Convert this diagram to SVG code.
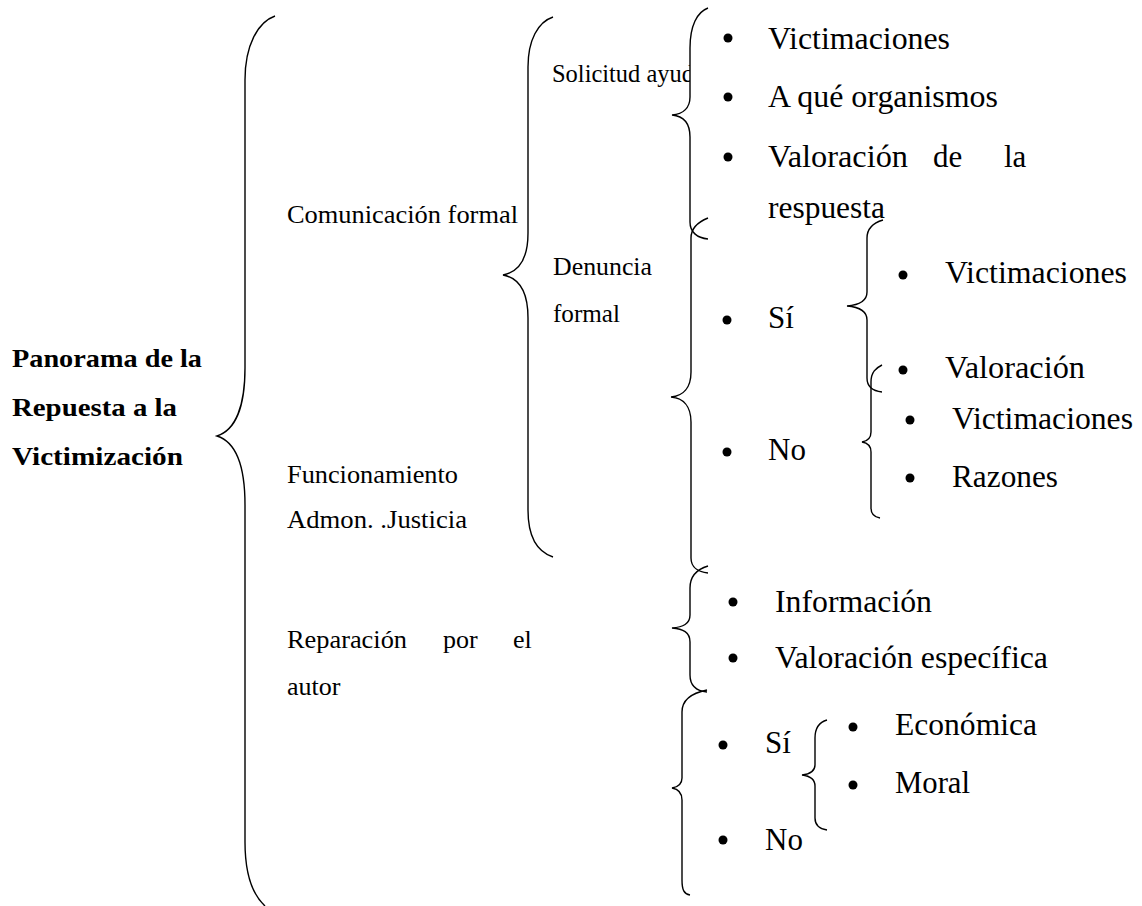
<svg xmlns="http://www.w3.org/2000/svg" width="1142" height="906" viewBox="0 0 1142 906">
<style>
.br{fill:none;stroke:#000;stroke-width:1.4}
.lbl{font-family:"Liberation Serif","Times New Roman","DejaVu Serif",serif;font-size:26px;fill:#000}
.itm{font-family:"Liberation Serif","Times New Roman","DejaVu Serif",serif;font-size:31px;fill:#000}
.ttl{font-family:"Liberation Serif","Times New Roman","DejaVu Serif",serif;font-size:26px;font-weight:bold;fill:#000}
.dot{fill:#000}
</style>
<defs>
<clipPath id="clipSol"><rect x="540" y="50" width="150" height="50"/></clipPath>
</defs>
<rect width="1142" height="906" fill="#fff"/>

<g id="connectors">
<path class="br" d="M275,16 C258,22 245,45 245,80 L245,368 C245,405 236,430 217,436 C236,442 245,467 245,505 L245,842 C245,875 253,895 265,906"/>
<path class="br" d="M553,17 C538,22 528,40 528,67 L528,233 C528,258 519,272 503,275 C519,278 528,292 528,318 L528,510 C528,538 538,552 553,557"/>
<path class="br" d="M708,8 C697,12 690,26 690,48 L690,97 C690,108 683,114 672,115 C683,116 690,123 690,137 L690,222 C690,232 697,238 708,239"/>
<path class="br" d="M708,218 C698,222 691,228 691,238 L691,372 C691,388 683,396 671,397 C683,398 691,406 691,422 L691,558 C691,567 698,572 708,573"/>
<path class="br" d="M708,566 C698,569 690,576 690,588 L690,615 C690,624 683,627 672,628 C683,629 690,632 690,642 L690,675 C690,686 697,691 707,692"/>
<path class="br" d="M707,690 C692,693 682,700 682,712 L682,778 C682,784 678,787 672,788 C678,789 682,792 682,800 L682,880 C682,890 684,894 690,895"/>
<path class="br" d="M827,720 C820,722 815,728 815,738 L815,765 C815,771 810,774 802,775 C810,776 815,779 815,786 L815,818 C815,826 820,829 827,830"/>
<path class="br" d="M883,220 C873,223 867,228 867,238 L867,292 C867,301 859,305 847,306 C859,307 867,311 867,320 L867,378 C867,387 873,391 882,392"/>
<path class="br" d="M882,365 C876,368 871,372 871,382 L871,432 C871,438 868,441 862,442 C868,443 871,446 871,452 L871,508 C871,514 874,517 880,518"/>
</g>

<g id="root">
<text class="ttl" x="12" y="367" textLength="190" lengthAdjust="spacingAndGlyphs">Panorama de la</text>
<text class="ttl" x="12" y="416" textLength="165" lengthAdjust="spacingAndGlyphs">Repuesta a la</text>
<text class="ttl" x="12" y="465" textLength="171" lengthAdjust="spacingAndGlyphs">Victimización</text>
</g>

<g id="comunicacion">
<text class="lbl" x="287" y="223" textLength="231" lengthAdjust="spacingAndGlyphs">Comunicación formal</text>
</g>

<g id="funcionamiento">
<text class="lbl" x="287" y="483" textLength="171" lengthAdjust="spacingAndGlyphs">Funcionamiento</text>
<text class="lbl" x="287" y="528" textLength="180" lengthAdjust="spacingAndGlyphs">Admon. .Justicia</text>
</g>

<g id="reparacion">
<text class="lbl" x="287" y="648" textLength="120" lengthAdjust="spacingAndGlyphs">Reparación</text>
<text class="lbl" x="443" y="648">por</text>
<text class="lbl" x="513" y="648">el</text>
<text class="lbl" x="287" y="695">autor</text>
</g>

<g id="solicitud">
<text class="lbl" x="552" y="82" textLength="142" lengthAdjust="spacingAndGlyphs" clip-path="url(#clipSol)">Solicitud ayud</text>
</g>

<g id="denuncia">
<text class="lbl" x="553" y="275" textLength="99" lengthAdjust="spacingAndGlyphs">Denuncia</text>
<text class="lbl" x="553" y="322" textLength="67" lengthAdjust="spacingAndGlyphs">formal</text>
</g>

<g id="solicitud-items">
<circle class="dot" cx="728" cy="38" r="4.5"/>
<text class="itm" x="768" y="49" textLength="182" lengthAdjust="spacingAndGlyphs">Victimaciones</text>
<circle class="dot" cx="728" cy="97" r="4.5"/>
<text class="itm" x="768" y="107" textLength="230" lengthAdjust="spacingAndGlyphs">A qué organismos</text>
<circle class="dot" cx="728" cy="157" r="4.5"/>
<text class="itm" x="768" y="167" textLength="140" lengthAdjust="spacingAndGlyphs">Valoración</text>
<text class="itm" x="933" y="167">de</text>
<text class="itm" x="1004" y="167">la</text>
<text class="itm" x="768" y="218" textLength="117" lengthAdjust="spacingAndGlyphs">respuesta</text>
</g>

<g id="denuncia-si">
<circle class="dot" cx="727" cy="320" r="4.5"/>
<text class="itm" x="768" y="328">Sí</text>
</g>
<g id="denuncia-no">
<circle class="dot" cx="727" cy="452" r="4.5"/>
<text class="itm" x="768" y="460">No</text>
</g>

<g id="si-items">
<circle class="dot" cx="903" cy="275" r="4.5"/>
<text class="itm" x="945" y="283" textLength="182" lengthAdjust="spacingAndGlyphs">Victimaciones</text>
<circle class="dot" cx="903" cy="370" r="4.5"/>
<text class="itm" x="945" y="378" textLength="140" lengthAdjust="spacingAndGlyphs">Valoración</text>
</g>

<g id="no-items">
<circle class="dot" cx="910" cy="420" r="4.5"/>
<text class="itm" x="952" y="429" textLength="181" lengthAdjust="spacingAndGlyphs">Victimaciones</text>
<circle class="dot" cx="910" cy="478" r="4.5"/>
<text class="itm" x="952" y="487" textLength="106" lengthAdjust="spacingAndGlyphs">Razones</text>
</g>

<g id="funcionamiento-items">
<circle class="dot" cx="733" cy="602" r="4.5"/>
<text class="itm" x="775" y="612" textLength="157" lengthAdjust="spacingAndGlyphs">Información</text>
<circle class="dot" cx="733" cy="658" r="4.5"/>
<text class="itm" x="775" y="668" textLength="273" lengthAdjust="spacingAndGlyphs">Valoración específica</text>
</g>

<g id="reparacion-si">
<circle class="dot" cx="723" cy="745" r="4.5"/>
<text class="itm" x="765" y="753">Sí</text>
</g>
<g id="reparacion-no">
<circle class="dot" cx="723" cy="840" r="4.5"/>
<text class="itm" x="765" y="850">No</text>
</g>

<g id="reparacion-si-items">
<circle class="dot" cx="853" cy="727" r="4.5"/>
<text class="itm" x="895" y="735" textLength="142" lengthAdjust="spacingAndGlyphs">Económica</text>
<circle class="dot" cx="853" cy="785" r="4.5"/>
<text class="itm" x="895" y="793" textLength="75" lengthAdjust="spacingAndGlyphs">Moral</text>
</g>
</svg>
